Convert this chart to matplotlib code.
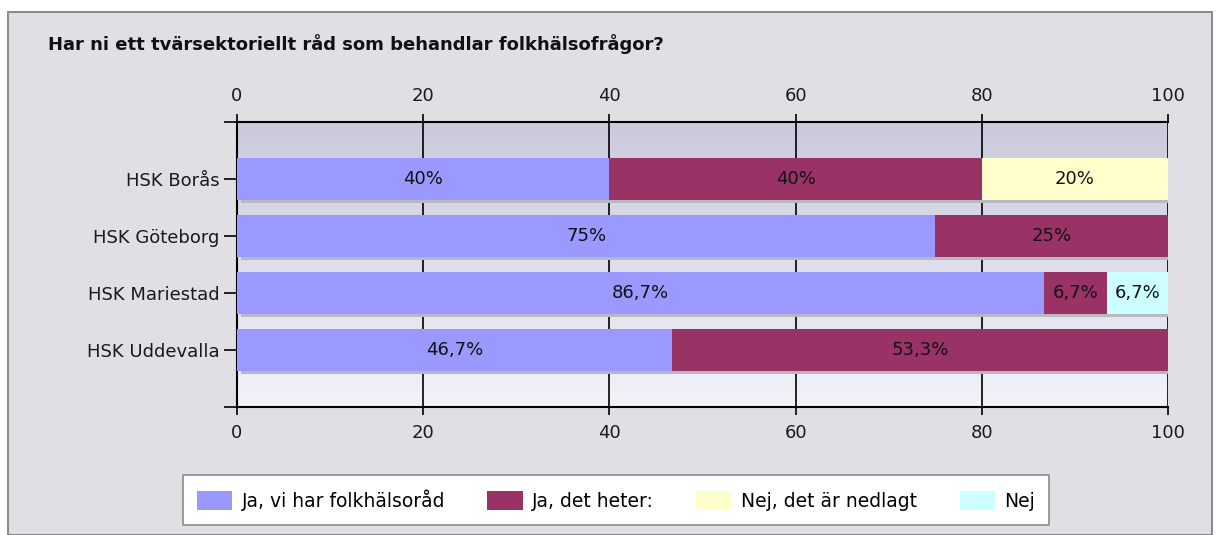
import numpy as np
import matplotlib.pyplot as plt
from matplotlib.patches import Patch, Rectangle

categories = ["HSK Borås", "HSK Göteborg", "HSK Mariestad", "HSK Uddevalla"]
series_names = ["Ja, vi har folkhälsoråd", "Ja, det heter:", "Nej, det är nedlagt", "Nej"]
ja_folkhalsorad = [40, 75, 86.7, 46.7]
ja_det_heter = [40, 25, 6.7, 53.3]
nej_nedlagt = [20, 0, 0, 0]
nej = [0, 0, 6.7, 0]
colors = ["#9999FF", "#993366", "#FFFFCC", "#CCFFFF"]
ticks = [0, 20, 40, 60, 80, 100]

series = [ja_folkhalsorad, ja_det_heter, nej_nedlagt, nej]

plt.rcParams['font.family'] = ['DejaVu Sans']

fig = plt.figure(figsize=(12.2, 5.35), dpi=100)
fig.patch.set_facecolor("white")
# grey panel with border
fig.patches.append(Rectangle((8 / 1220, 0), 1204 / 1220, 1 - 12 / 535,
                             transform=fig.transFigure, facecolor="#E0DFE3",
                             edgecolor="#8C8C8C", linewidth=1.5, zorder=-5))

fig.text(48 / 1220, 1 - 44 / 535, "Har ni ett tvärsektoriellt råd som behandlar folkhälsofrågor?",
         fontsize=13, fontweight="bold", va="center", ha="left", color="#111111")

ax = fig.add_axes([237 / 1220, 1 - 407 / 535, (1168 - 237) / 1220, (407 - 122) / 535])
ax.patch.set_visible(False)

# gradient background
grad = np.linspace(0, 1, 256).reshape(-1, 1)
top = np.array([0xCB, 0xCA, 0xDB]) / 255
bot = np.array([0xF2, 0xF2, 0xF9]) / 255
img = top + (bot - top) * grad[:, :, None]
ax.imshow(img, extent=[0, 100, 4, -1], aspect="auto", zorder=0)

y = np.arange(len(categories))
left = np.zeros(len(categories))
for vals in series:
    vals = np.array(vals, dtype=float)
    # shadow
    ax.barh(y + 0.05, vals, left=left + 0.4, height=0.74, color="#B8B8C0", zorder=2, linewidth=0)
    left += vals
left = np.zeros(len(categories))
for vals, col in zip(series, colors):
    vals = np.array(vals, dtype=float)
    ax.barh(y, vals, left=left, height=0.74, color=col, zorder=3, linewidth=0)
    for i, v in enumerate(vals):
        if v > 0:
            txt = ("%g" % v).replace(".", ",") + "%"
            ax.text(left[i] + v / 2, y[i], txt, ha="center", va="center",
                    fontsize=13, color="#111111", zorder=4)
    left += vals

ax.set_xlim(0, 100)
ax.set_ylim(4, -1)
ax.set_yticks(y)
ax.set_yticklabels(categories, fontsize=13, color="#1a1a1a")
ax.set_yticks([-1, 4], minor=True)
ax.tick_params(axis="y", which="both", direction="out", length=9.5, width=1.2, pad=3)
ax.set_xticks(ticks)
ax.set_xticklabels([str(t) for t in ticks], fontsize=13, color="#1a1a1a")
ax.tick_params(axis="x", which="both", top=True, labeltop=True, direction="out",
               length=6, width=1.2, pad=6.5)
for t in ticks[1:]:
    ax.axvline(t, color="black", linewidth=1.2, zorder=1)

for s in ["left", "top", "bottom"]:
    ax.spines[s].set_linewidth(1.5)
    ax.spines[s].set_color("black")
ax.spines["right"].set_visible(False)

handles = [Patch(facecolor=c, edgecolor="none") for c in colors]
leg = fig.legend(handles, series_names, loc="center", bbox_to_anchor=(616 / 1220, 1 - 500 / 535),
                 ncol=4, frameon=True, fancybox=False, fontsize=13.5, handlelength=1.9,
                 handleheight=1.2, columnspacing=2.25, borderpad=0.75, handletextpad=0.5,
                 borderaxespad=0, framealpha=1)
leg.get_frame().set_edgecolor("#8C8C8C")
leg.get_frame().set_linewidth(1.2)
leg.get_frame().set_facecolor("white")

fig.savefig("out.png", dpi=100)
